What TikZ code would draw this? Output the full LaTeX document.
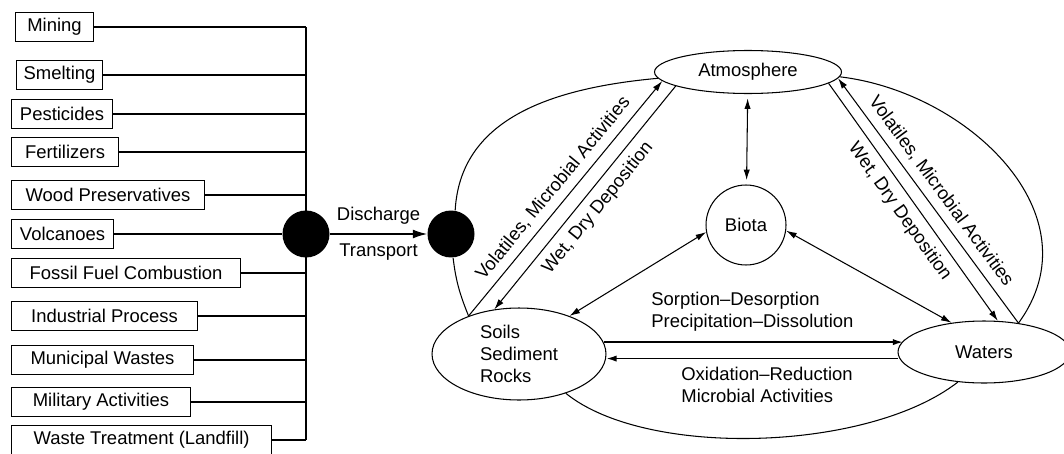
\documentclass[tikz,border=0pt]{standalone}
\usepackage{fontspec}
\setmainfont{Liberation Sans}
\usetikzlibrary{arrows.meta,shapes.geometric}

\begin{document}
\begin{tikzpicture}[x=0.02cm,y=-0.02cm,
    font=\fontsize{10.5}{12.6}\selectfont,
    line width=0.6pt,
    >={Latex[length=6pt,width=3.6pt]},
    srcbox/.style={draw,anchor=west,minimum height=0.58cm,inner sep=1pt},
    blob/.style={circle,fill=black,minimum size=0.94cm,inner sep=0pt},
    sphere/.style={ellipse,draw,inner sep=0pt},
    flow/.style={line width=1pt}]
    \useasboundingbox (0,0) rectangle (1064,453);

    \foreach \nm/\txt/\xx/\yy/\ww in {mining/Mining/15/27/78,
        smelting/Smelting/16/75/86, pesticides/Pesticides/11/114/101,
        fertilizers/Fertilizers/11/152/107, wood/Wood Preservatives/11/195/193,
        volcanoes/Volcanoes/11/234/102, fossil/Fossil Fuel Combustion/11/273/229,
        industrial/Industrial Process/11/316/186, municipal/Municipal Wastes/11/360/182,
        military/Military Activities/11/402/179, waste/Waste Treatment (Landfill)/11/440/260}
        \node[srcbox,minimum width=\ww*0.02cm] (\nm) at (\xx,\yy) {\txt};

    \node[blob] (hub) at (306,234) {};
    \node[blob] (entry) at (451,234) {};

    \foreach \nm in {mining,smelting,pesticides,fertilizers,wood,fossil,industrial,municipal,military,waste}
        \draw (\nm.east) -- (\nm.east -| hub);
    \draw (mining.east -| hub) -- (waste.east -| hub);
    \draw (volcanoes) -- (hub);
    \draw[->,>={Latex[length=8pt,width=5pt]}] (hub) -- (entry)
        node[midway,above=2pt] {Discharge} node[midway,below=2pt] {Transport};

    \node[sphere,minimum width=3.74cm,minimum height=0.86cm] (atm) at (748,72) {Atmosphere};
    \node[circle,draw,minimum size=1.6cm,inner sep=0pt] (biota) at (746,225) {Biota};
    \node[sphere,minimum width=3.48cm,minimum height=1.84cm,align=left] (soils) at (519,354) {Soils\\Sediment\\Rocks};
    \node[sphere,minimum width=3.44cm,minimum height=1.24cm] (waters) at (984,352) {Waters};

    \draw[<->,shorten <=2.5pt,shorten >=2.5pt] (atm) -- (biota);
    \draw[<->] (biota.190) -- (soils.37);
    \draw[<->] (biota.-8) -- (waters.138);
    \draw[->,flow] (soils.8) -- (soils.8 -| waters.172);
    \draw[<-,flow] (soils.-3) -- (soils.-3 -| waters.183);

    \draw[->] (soils.143) -- (atm.186) node[midway,sloped,above=1pt] {Volatiles, Microbial Activities};
    \draw[->] (atm.191) -- (soils.119) node[midway,sloped,below=1pt] {Wet, Dry Deposition};
    \draw[->] (atm.-8) -- (waters.66) node[midway,sloped,below=1pt] {Wet, Dry Deposition};
    \draw[->] (waters.40) -- (atm.-4) node[midway,sloped,above=1pt] {Volatiles, Microbial Activities};

    \draw (entry.80) .. controls +(5,-90) and +(-110,10) .. (atm.184);
    \draw (entry.-85) .. controls +(3,25) and +(-8,-20) .. (soils.143);
    \draw (atm.-3) .. controls +(128,15) and +(79,-108) .. (waters.40);
    \draw (soils.-40) .. controls +(80,65) and +(-90,70) .. (waters.-131);

    \node[anchor=west,align=left] (sorp) at (645,312) {Sorption--Desorption\\Precipitation--Dissolution};
    \node[anchor=west,align=left] (redox) at (675,385) {Oxidation--Reduction\\Microbial Activities};
\end{tikzpicture}
\end{document}
